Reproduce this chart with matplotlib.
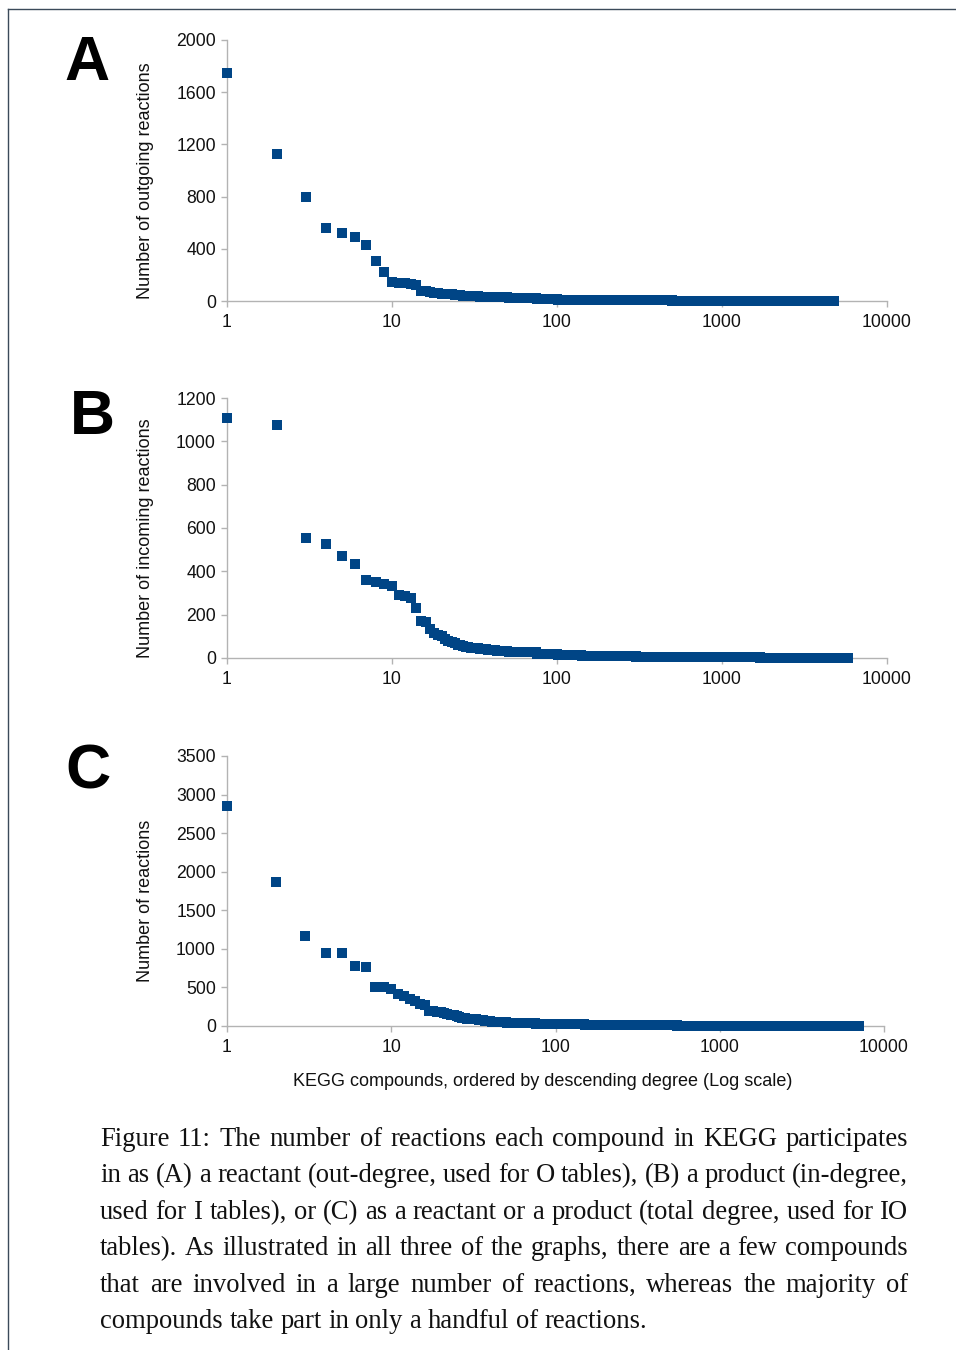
import numpy as np
import matplotlib
matplotlib.use("Agg")
import matplotlib.pyplot as plt
from matplotlib.lines import Line2D

# ---- data (rank-ordered degrees) ----
# first 30 ranks given explicitly, the long tail as (degree, how many compounds) runs
out_head = [1750, 1130, 800, 557, 519, 488, 427, 308, 220, 145,
            140, 135, 130, 125, 80, 75, 70, 65, 60, 56,
            54, 52, 50, 47, 45, 43, 41, 40, 38, 37]
out_tail_deg = [35, 32, 30, 27, 24, 20, 15, 11, 8, 6, 4, 3, 2, 1]
out_tail_cnt = [3, 4, 5, 8, 10, 15, 25, 40, 60, 100, 200, 500, 1000, 2750]

in_head = [1106, 1076, 552, 525, 472, 432, 360, 352, 342, 332,
           293, 288, 275, 230, 172, 168, 134, 115, 105, 100,
           88, 80, 75, 68, 62, 58, 55, 52, 50, 48]
in_tail_deg = [45, 42, 38, 34, 30, 26, 20, 15, 11, 8, 6, 4, 3, 2, 1]
in_tail_cnt = [3, 4, 5, 8, 10, 15, 25, 40, 60, 100, 200, 400, 800, 1500, 2630]

tot_head = [2852, 1873, 1165, 949, 949, 781, 768, 505, 500, 479,
            420, 390, 350, 330, 290, 270, 200, 195, 185, 177,
            165, 155, 145, 140, 134, 120, 110, 100, 95, 91]
tot_tail_deg = [85, 75, 65, 55, 48, 43, 36, 30, 26, 20, 15, 10, 7, 5, 4, 3, 2, 1]
tot_tail_cnt = [3, 3, 4, 5, 5, 10, 15, 15, 20, 40, 70, 130, 200, 250, 400, 800, 1500, 3500]

panel_letters = ["A", "B", "C"]
y_labels = ["Number of outgoing reactions", "Number of incoming reactions", "Number of reactions"]
y_ticks = [np.arange(0, 2001, 400), np.arange(0, 1201, 200), np.arange(0, 3501, 500)]
x_ticks = [1, 10, 100, 1000, 10000]
x_label = "KEGG compounds, ordered by descending degree (Log scale)"

caption_lines = [
    "Figure 11: The number of reactions each compound in KEGG participates",
    "in as (A) a reactant (out-degree, used for O tables), (B) a product (in-degree,",
    "used for I tables), or (C) as a reactant or a product (total degree, used for IO",
    "tables). As illustrated in all three of the graphs, there are a few compounds",
    "that are involved in a large number of reactions, whereas the majority of",
    "compounds take part in only a handful of reactions.",
]

series = [
    np.concatenate([out_head, np.repeat(out_tail_deg, out_tail_cnt)]),
    np.concatenate([in_head, np.repeat(in_tail_deg, in_tail_cnt)]),
    np.concatenate([tot_head, np.repeat(tot_tail_deg, tot_tail_cnt)]),
]

W, H = 956, 1350
fig = plt.figure(figsize=(W / 100, H / 100), dpi=100)
plt.rcParams["font.family"] = ["Liberation Sans", "DejaVu Sans"]

blue = "#004586"
grey = "#b3b3b3"

# axes boxes in pixels: left, right, top, bottom
boxes = [(227, 887, 40, 301), (227, 887, 398, 658), (227, 884, 756, 1026)]
letter_pos = [(87, 64), (92, 417), (88, 772)]
ylabel_y = [181, 538, 901]

for i, (l, r, t, b) in enumerate(boxes):
    ax = fig.add_axes([l / W, 1 - b / H, (r - l) / W, (b - t) / H])
    y = series[i]
    ranks = np.arange(1, len(y) + 1)
    ax.plot(ranks, y, ls="none", marker="s", ms=7.4, mew=0, color=blue,
            clip_on=False, zorder=3)
    ax.set_xscale("log")
    ax.set_xlim(1, 10000)
    ax.set_ylim(0, y_ticks[i][-1])
    ax.set_xticks(x_ticks)
    ax.set_xticklabels([str(v) for v in x_ticks])
    ax.xaxis.set_minor_locator(matplotlib.ticker.NullLocator())
    ax.set_yticks(y_ticks[i])
    for s in ["top", "right"]:
        ax.spines[s].set_visible(False)
    for s in ["left", "bottom"]:
        ax.spines[s].set_color(grey)
        ax.spines[s].set_linewidth(1.0)
    ax.tick_params(axis="both", direction="out", length=4.5, width=1.0,
                   color=grey, labelsize=12.7, labelcolor="#111111")
    ax.tick_params(axis="y", pad=3.5)
    ax.tick_params(axis="x", pad=5)
    ax.patch.set_visible(False)

    fig.text(145 / W, 1 - ylabel_y[i] / H, y_labels[i], rotation=90,
             ha="center", va="center", fontsize=13, color="#111111")
    fig.text(letter_pos[i][0] / W, 1 - letter_pos[i][1] / H, panel_letters[i],
             ha="center", va="center", fontsize=45, fontweight="bold", color="black")

fig.text(543 / W, 1 - 1082 / H, x_label, ha="center", va="center",
         fontsize=13, color="#111111")

# frame lines of the page crop
fig.add_artist(Line2D([8 / W, 1], [1 - 9 / H, 1 - 9 / H], transform=fig.transFigure,
                      color="#3b4a5a", lw=1.0))
fig.add_artist(Line2D([8 / W, 8 / W], [0, 1 - 9 / H], transform=fig.transFigure,
                      color="#3b4a5a", lw=1.0))

# justified caption
renderer = fig.canvas.get_renderer()
x0, x1 = 100, 908
base0, step = 1146, 36.45
cap_font = dict(fontsize=19.2, family="Liberation Serif", color="#111111", va="baseline")
for k, line in enumerate(caption_lines):
    yb = 1 - (base0 + k * step) / H
    words = line.split(" ")
    texts = [fig.text(0, yb, w_, **cap_font) for w_ in words]
    widths = [tx.get_window_extent(renderer).width for tx in texts]
    if k < len(caption_lines) - 1:
        gap = (x1 - x0 - sum(widths)) / (len(words) - 1)
    else:
        sp = fig.text(0, yb, "a a", **cap_font)
        sp2 = fig.text(0, yb, "aa", **cap_font)
        gap = sp.get_window_extent(renderer).width - sp2.get_window_extent(renderer).width
        sp.remove()
        sp2.remove()
    x = x0
    for tx, wd in zip(texts, widths):
        tx.set_x(x / W)
        x += wd + gap

fig.savefig("out.png", dpi=100)
